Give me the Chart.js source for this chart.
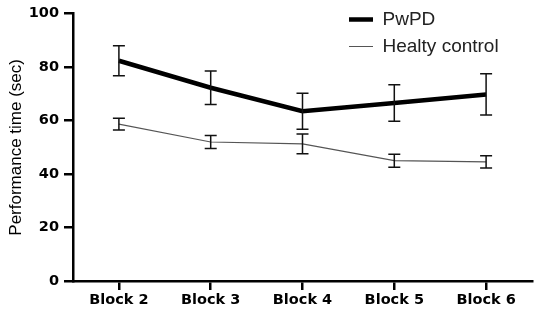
<!DOCTYPE html>
<html>
<head>
<meta charset="utf-8">
<script src="https://cdn.jsdelivr.net/npm/chart.js@4"></script>
<style>
  html, body { margin: 0; padding: 0; background: #fff; }
  #wrap { width: 536px; height: 309px; }
</style>
</head>
<body>
<div id="wrap"><canvas id="myChart"></canvas></div>
<script>
// data
const blocks = ['Block 2', 'Block 3', 'Block 4', 'Block 5', 'Block 6'];
const pwpd = [82.4, 72.3, 63.5, 66.6, 69.8];
const pwpdErr = [5.6, 6.3, 6.7, 6.8, 7.7];
const healthy = [58.7, 52.0, 51.3, 45.0, 44.6];
const healthyErr = [2.2, 2.4, 3.7, 2.4, 2.3];
const yTicks = [0, 20, 40, 60, 80, 100];

// error bars drawn through the y scale
const errorBars = {
  id: 'errorBars',
  afterDatasetsDraw(chart) {
    const ctx = chart.ctx;
    const y = chart.scales.y;
    chart.data.datasets.forEach((ds, i) => {
      const meta = chart.getDatasetMeta(i);
      meta.data.forEach((pt, j) => {
        const top = y.getPixelForValue(ds.data[j] + ds.errors[j]);
        const bot = y.getPixelForValue(ds.data[j] - ds.errors[j]);
        ctx.save();
        ctx.strokeStyle = '#111';
        ctx.lineWidth = 1.5;
        ctx.beginPath();
        ctx.moveTo(pt.x, top); ctx.lineTo(pt.x, bot);
        ctx.moveTo(pt.x - 6, top); ctx.lineTo(pt.x + 6, top);
        ctx.moveTo(pt.x - 6, bot); ctx.lineTo(pt.x + 6, bot);
        ctx.stroke();
        ctx.restore();
      });
    });
  }
};

// move the legend to the upper right of the plot
const legendPos = {
  id: 'legendPos',
  afterLayout(chart) {
    const l = chart.legend;
    l.left = 341;
    l.right = l.left + l.width;
    l.top = 2;
  }
};

const ctx = document.getElementById('myChart').getContext('2d');
new Chart(ctx, {
  type: 'line',
  data: {
    labels: blocks,
    datasets: [{
      label: 'PwPD',
      data: pwpd,
      errors: pwpdErr,
      borderColor: '#000',
      borderWidth: 4.5,
      pointRadius: 0,
      fill: false
    }, {
      label: 'Healty control',
      data: healthy,
      errors: healthyErr,
      borderColor: '#555',
      borderWidth: 1.2,
      pointRadius: 0,
      fill: false
    }]
  },
  options: {
    responsive: true,
    maintainAspectRatio: false,
    animation: false,
    layout: { padding: { top: 10, right: 4, left: 0, bottom: 0 } },
    plugins: {
      tooltip: { enabled: false },
      legend: {
        position: 'chartArea',
        align: 'start',
        labels: {
          usePointStyle: true,
          pointStyle: 'line',
          pointStyleWidth: 24,
          boxWidth: 24,
          padding: 8,
          color: '#222',
          font: { family: 'Liberation Sans', size: 19 }
        }
      }
    },
    scales: {
      x: {
        offset: true,
        afterFit(scale) { scale.height = 28; },
        border: { display: true, color: '#000', width: 2.5 },
        grid: { drawOnChartArea: false, drawTicks: true, tickLength: 9, color: '#000', lineWidth: 2.5 },
        ticks: { color: '#000', padding: 2, font: { family: 'DejaVu Sans', weight: 'bold', size: 14.5 } }
      },
      y: {
        min: 0,
        max: 100,
        afterFit(scale) { scale.width = 73; },
        afterBuildTicks(scale) { scale.ticks = yTicks.map(v => ({ value: v })); },
        border: { display: true, color: '#000', width: 2.5 },
        grid: { drawOnChartArea: false, drawTicks: true, tickLength: 9, color: '#000', lineWidth: 2.5 },
        ticks: { color: '#000', padding: 5, font: { family: 'DejaVu Sans', weight: 'bold', size: 14.5 } },
        title: {
          display: true,
          text: 'Performance time (sec)',
          color: '#000',
          padding: { top: 6, bottom: 0 },
          font: { family: 'Liberation Sans', size: 17 }
        }
      }
    }
  },
  plugins: [errorBars, legendPos]
});
</script>
</body>
</html>
